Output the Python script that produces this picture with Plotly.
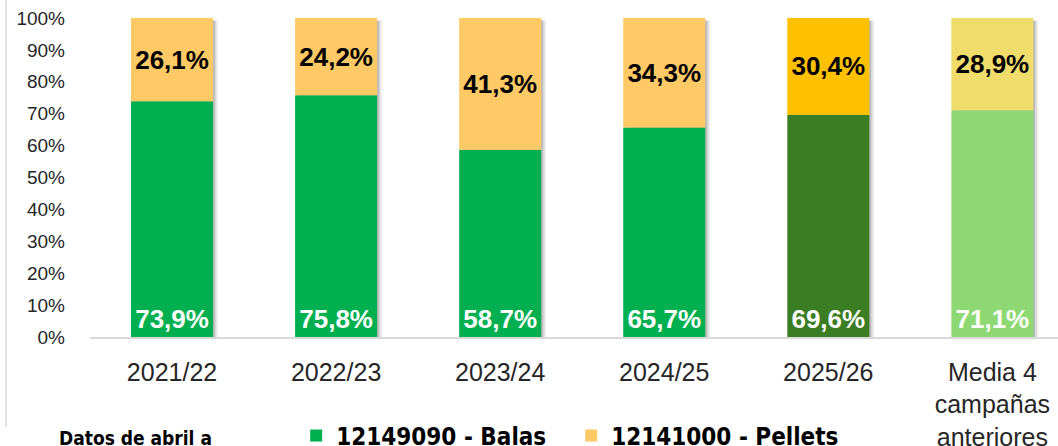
import plotly.graph_objects as go

categories = ["2021/22", "2022/23", "2023/24", "2024/25", "2025/26", "Media 4<br>campañas<br>anteriores"]
balas = [73.9, 75.8, 58.7, 65.7, 69.6, 71.1]
pellets = [26.1, 24.2, 41.3, 34.3, 30.4, 28.9]
balas_colors = ["#00B050", "#00B050", "#00B050", "#00B050", "#3B7D23", "#8ED973"]
pellets_colors = ["#FFC966", "#FFC966", "#FFC966", "#FFC966", "#FFC000", "#F0DC6A"]
y_ticks = [0, 10, 20, 30, 40, 50, 60, 70, 80, 90, 100]


def fmt(v):
    return f"{v:.1f}".replace(".", ",") + "%"


x = list(range(len(categories)))
totals = [b + p for b, p in zip(balas, pellets)]
BW = 0.5

fig = go.Figure()
# soft shadow behind each bar
for shift, alpha in [(0.030, 0.06), (0.020, 0.10), (0.010, 0.14)]:
    fig.add_trace(go.Bar(
        x=x, y=[t - 0.8 for t in totals], base=[0.0] * len(x), width=BW, offset=-BW / 2 + shift,
        marker=dict(color=f"rgba(0,0,0,{alpha})", line=dict(width=0)),
        showlegend=False, hoverinfo="skip",
    ))
fig.add_trace(go.Bar(
    x=x, y=balas, base=[0.0] * len(x), name="12149090 - Balas", width=BW, offset=-BW / 2,
    marker=dict(color=balas_colors, line=dict(width=0)),
    text=[fmt(v) for v in balas], textposition="inside", insidetextanchor="start",
    textfont=dict(family="Liberation Sans", size=26, color="white", weight="bold"),
    constraintext="none", textangle=0,
))
fig.add_trace(go.Bar(
    x=x, y=pellets, base=balas, name="12141000 - Pellets", width=BW, offset=-BW / 2,
    marker=dict(color=pellets_colors, line=dict(width=0)),
    text=[fmt(v) for v in pellets], textposition="inside", insidetextanchor="middle",
    textfont=dict(family="Liberation Sans", size=26, color="black", weight="bold"),
    constraintext="none", textangle=0,
))

fig.update_layout(
    barmode="overlay",
    width=1058, height=446,
    margin=dict(l=90, r=0, t=18, b=109, autoexpand=False),
    paper_bgcolor="white", plot_bgcolor="white",
    showlegend=True,
    legend=dict(
        orientation="h", x=0.213, xanchor="left", y=-0.31, yanchor="middle",
        font=dict(family="Liberation Sans Narrow, DejaVu Sans Condensed", size=24, color="black", weight="bold"),
        itemwidth=30, entrywidth=230, entrywidthmode="pixels",
        traceorder="normal", bgcolor="rgba(0,0,0,0)",
    ),
    xaxis=dict(
        range=[-0.5, 5.4], tickmode="array", tickvals=x, ticktext=categories,
        showgrid=False, showline=True, linecolor="#D9D9D9", linewidth=1.5,
        ticks="", ticklabelstandoff=12, automargin=False,
        tickfont=dict(family="Liberation Sans", size=25, color="#262626"),
    ),
    yaxis=dict(
        range=[0, 100], tickmode="array", tickvals=y_ticks, ticktext=[f"{v}%" for v in y_ticks],
        showgrid=False, showline=False, zeroline=False, ticks="",
        ticklabelstandoff=24, automargin=False,
        tickfont=dict(family="Liberation Sans", size=19, color="#262626"),
    ),
)

fig.add_annotation(
    text="Datos de abril a", xref="paper", yref="paper",
    x=(135 - 90) / 968, y=(337 - 438) / 319, xanchor="center", yanchor="middle",
    showarrow=False,
    font=dict(family="Liberation Sans Narrow, DejaVu Sans Condensed", size=19, color="black", weight="bold"),
)
fig.add_shape(type="line", xref="paper", yref="paper",
              x0=-84 / 968, x1=-84 / 968, y0=(337 - 0) / 319, y1=(337 - 427) / 319,
              line=dict(color="#D9D9D9", width=1.5))

fig.write_html("out.html", config={"displayModeBar": False},
               post_script="document.body.style.margin='0';")
